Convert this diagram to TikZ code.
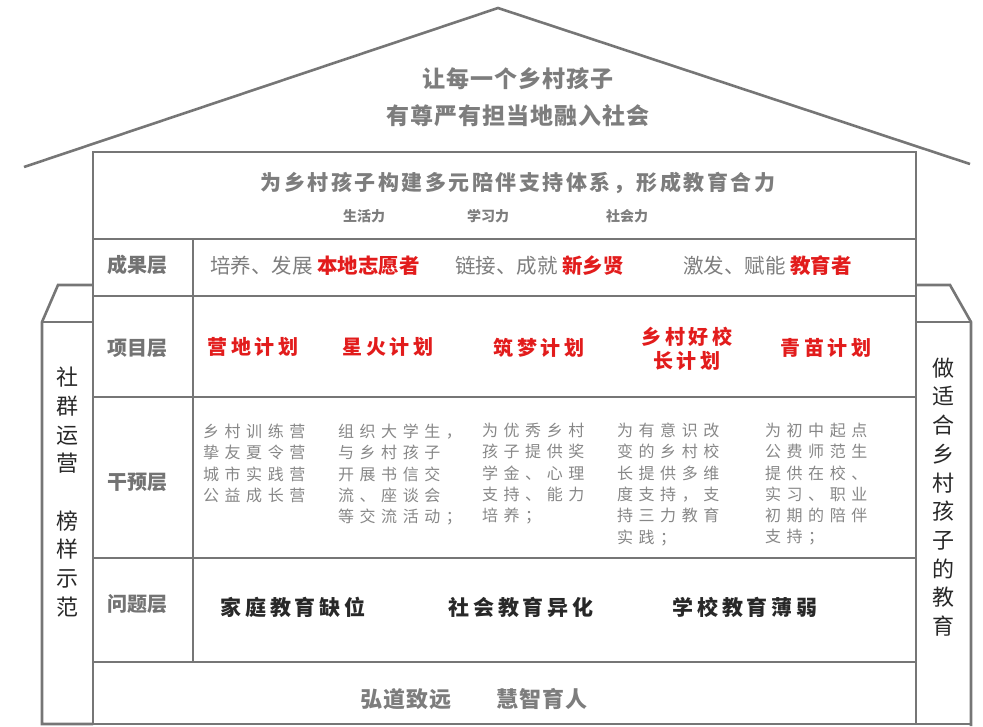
\documentclass[tikz,border=0pt]{standalone}
\usepackage{fontspec}
\setmainfont{Noto Sans CJK SC}
\definecolor{linegray}{RGB}{118,118,118}
\definecolor{txtgray}{RGB}{125,125,125}
\definecolor{lblgray}{RGB}{115,115,115}
\definecolor{intgray}{RGB}{135,135,135}
\definecolor{myred}{RGB}{226,28,28}
\definecolor{darktxt}{RGB}{40,40,40}
\tikzset{
  frame/.style={draw=linegray, line width=2.6pt, line join=miter},
  txt/.style={inner sep=0pt, outer sep=0pt},
  rooftxt/.style={txt, text=txtgray, font={\fontsize{23}{28}\selectfont\bfseries\addfontfeature{LetterSpace=4}}},
  titletxt/.style={txt, text=txtgray, font={\fontsize{21}{26}\selectfont\bfseries\addfontfeature{LetterSpace=12}}},
  subtxt/.style={txt, text=txtgray, font={\fontsize{14}{17}\selectfont\bfseries}},
  lbltxt/.style={txt, text=lblgray, font={\fontsize{20}{24}\selectfont\bfseries}},
  restxt/.style={txt, anchor=west, text=txtgray, font={\fontsize{20.5}{24}\selectfont}},
  projtxt/.style={txt, align=center, text=myred, font={\fontsize{20}{24.5}\selectfont\bfseries\addfontfeature{LetterSpace=18}}},
  intxt/.style={txt, anchor=north west, align=left, text=intgray, font={\fontsize{16}{21.3}\selectfont\addfontfeature{LetterSpace=35}}},
  probtxt/.style={txt, text=darktxt, font={\fontsize{21}{25}\selectfont\bfseries\addfontfeature{LetterSpace=18}}},
  basetxt/.style={txt, text=txtgray, font={\fontsize{22}{26}\selectfont\bfseries\addfontfeature{LetterSpace=6}}},
  piltxt/.style={txt, align=center, text=darktxt, font={\fontsize{22}{28.7}\selectfont}},
}
\begin{document}
\begin{tikzpicture}[x=1pt,y=-1pt]
\useasboundingbox (0,0) rectangle (983,726);
% roof
\draw[frame] (24,167) -- (498,8) -- (970,164);
% main box and rows
\draw[frame] (93,152) rectangle (916,724);
\foreach \yy in {239,296,397,558,662} \draw[frame] (93,\yy) -- (916,\yy);
\draw[frame] (193,239) -- (193,662);
% left pillar
\draw[frame] (93,285) -- (58,285) -- (42,322) -- (42,724) -- (93,724);
\draw[frame] (42,322) -- (93,322);
% right pillar
\draw[frame] (916,285) -- (950,285) -- (971,322) -- (971,726);
\draw[frame] (916,322) -- (971,322);
\draw[frame] (916,724) -- (971,724);

% roof text
\node[rooftxt] (roof1) at (518,79) {让每一个乡村孩子};
\node[rooftxt] (roof2) at (518,116) {有尊严有担当地融入社会};
% vision row
\node[titletxt] (title) at (518,183) {为乡村孩子构建多元陪伴支持体系，形成教育合力};
\node[subtxt] (sub1) at (364,216) {生活力};
\node[subtxt] (sub2) at (488,216) {学习力};
\node[subtxt] (sub3) at (627,216) {社会力};
% layer labels
\node[lbltxt] (l1) at (137,265) {成果层};
\node[lbltxt] (l2) at (137,348) {项目层};
\node[lbltxt] (l3) at (137,482) {干预层};
\node[lbltxt] (l4) at (137,604) {问题层};
% result row
\node[restxt] (r1) at (210,266) {培养、发展 \textcolor{myred}{\bfseries 本地志愿者}};
\node[restxt] (r2) at (455,266) {链接、成就 \textcolor{myred}{\bfseries 新乡贤}};
\node[restxt] (r3) at (683,266) {激发、赋能 \textcolor{myred}{\bfseries 教育者}};
% project row
\node[projtxt] (p1) at (253,347) {营地计划};
\node[projtxt] (p2) at (388,347) {星火计划};
\node[projtxt] (p3) at (539,348) {筑梦计划};
\node[projtxt] (p4) at (687,349) {乡村好校\\长计划};
\node[projtxt] (p5) at (826,348) {青苗计划};
% intervention row
\node[intxt] (i1) at (203,424) {乡村训练营\\挚友夏令营\\城市实践营\\公益成长营};
\node[intxt] (i2) at (338,424) {组织大学生，\\与乡村孩子\\开展书信交\\流、座谈会\\等交流活动；};
\node[intxt] (i3) at (482,423) {为优秀乡村\\孩子提供奖\\学金、心理\\支持、能力\\培养；};
\node[intxt] (i4) at (617,423) {为有意识改\\变的乡村校\\长提供多维\\度支持，支\\持三力教育\\实践；};
\node[intxt] (i5) at (765,423) {为初中起点\\公费师范生\\提供在校、\\实习、职业\\初期的陪伴\\支持；};
% problem row
\node[probtxt] (q1) at (293,607) {家庭教育缺位};
\node[probtxt] (q2) at (521,607) {社会教育异化};
\node[probtxt] (q3) at (745,607) {学校教育薄弱};
% base row
\node[basetxt] (b1) at (406,699) {弘道致远};
\node[basetxt] (b2) at (542,699) {慧智育人};
% pillars
\node[piltxt] (lp) at (67,492) {社\\群\\运\\营\\[28.7pt]榜\\样\\示\\范};
\node[piltxt] (rp) at (943,497) {做\\适\\合\\乡\\村\\孩\\子\\的\\教\\育};
\end{tikzpicture}
\end{document}
